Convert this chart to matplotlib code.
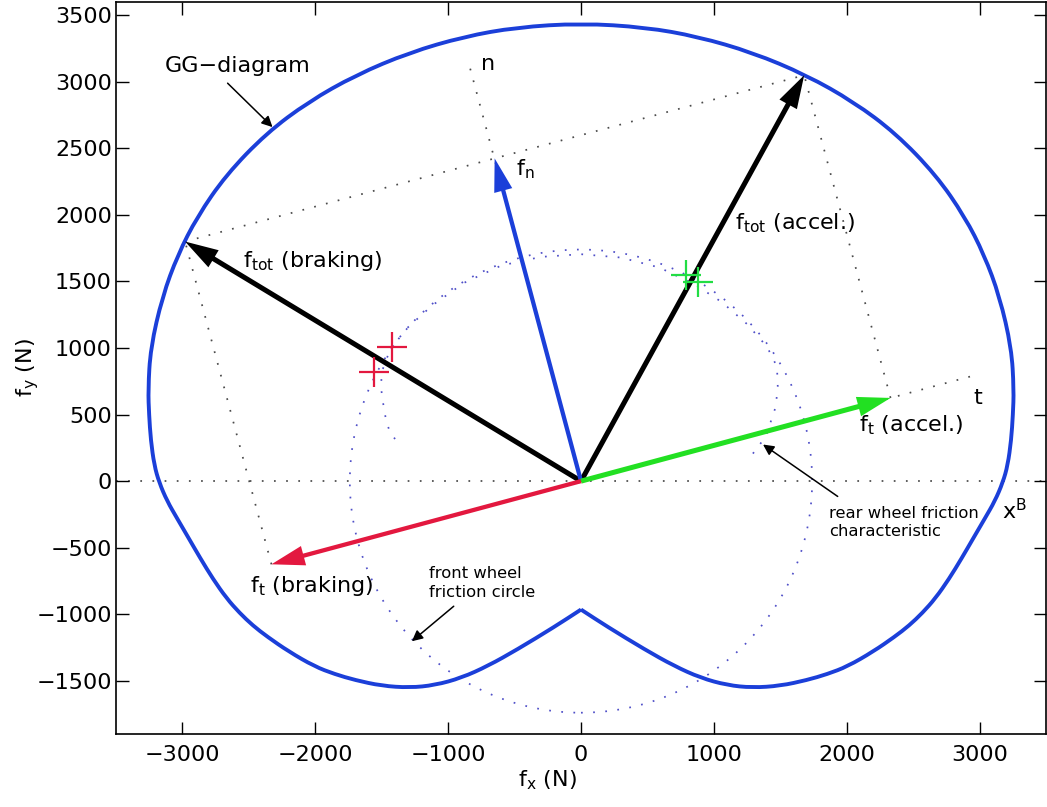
import matplotlib
matplotlib.use('Agg')
import matplotlib.pyplot as plt
from matplotlib.path import Path
from matplotlib.patches import PathPatch, Circle

plt.rcParams['font.family'] = ['DejaVu Sans']
plt.rcParams['mathtext.fontset'] = 'dejavusans'

# ---------------- data (N) ----------------
# GG-diagram envelope, starting at the bottom cusp, counter-clockwise
gg_x = [0, 200, 480, 700, 900, 1100, 1290, 1500, 1700, 1854, 2006, 2200, 2360, 2470, 2570,
        2668, 2770, 2865, 2958, 3040, 3115, 3175, 3212, 3238, 3251, 3258,
        3240, 3151, 3035, 2889, 2672, 2368, 2051, 1695, 1292, 879, 484, 0,
        -484, -879, -1292, -1695, -2051, -2368, -2672, -2889, -3035, -3151, -3240,
        -3258, -3251, -3238, -3212, -3175, -3115, -3040, -2958, -2865, -2770, -2668,
        -2570, -2470, -2360, -2200, -2006, -1854, -1700, -1500, -1290, -1100, -900,
        -700, -480, -200, 0]
gg_y = [-965, -1095, -1265, -1388, -1478, -1533, -1552, -1538, -1495, -1450, -1392, -1280, -1170, -1085, -990,
        -880, -735, -580, -420, -280, -150, -10, 120, 308, 498, 688,
        1000, 1386, 1700, 1986, 2300, 2614, 2850, 3051, 3220, 3340, 3410, 3440,
        3410, 3340, 3220, 3051, 2850, 2614, 2300, 1986, 1700, 1386, 1000,
        688, 498, 308, 120, -10, -150, -280, -420, -580, -735, -880,
        -990, -1085, -1170, -1280, -1392, -1450, -1495, -1538, -1552, -1533, -1478,
        -1388, -1265, -1095, -965]

# rear wheel friction characteristic (dotted)
rear_x = [1294, 1391, 1466, 1481, 1475, 1400, 1250, 1060, 860, 590, 300, 0,
          -300, -600, -880, -1120, -1320, -1440, -1500, -1505, -1490, -1468, -1445, -1408, -1355]
rear_y = [207, 335, 560, 710, 860, 1010, 1180, 1345, 1475, 1605, 1680, 1705,
          1685, 1620, 1490, 1320, 1140, 980, 820, 700, 590, 461, 388, 328, 253]

# front wheel friction circle radius
front_radius = 1740

# force vectors (tips, from origin)
f_n = (-650, 2425)
f_t_acc = (2330, 625)
f_t_brk = (-2330, -625)
f_tot_acc = (1680, 3050)
f_tot_brk = (-2980, 1800)

# axis lines (dotted)
t_axis_end = (2945, 790)
n_axis_end = (-845, 3140)

# markers
red_plus_x = [-1557, -1422]
red_plus_y = [822, 1010]
green_plus_x = [791, 880]
green_plus_y = [1550, 1498]

x_ticks = [-3000, -2000, -1000, 0, 1000, 2000, 3000]
y_ticks = [-1500, -1000, -500, 0, 500, 1000, 1500, 2000, 2500, 3000, 3500]

# ---------------- figure ----------------
W, H = 1047, 807
fig = plt.figure(figsize=(W / 100, H / 100), dpi=100)
ax = fig.add_axes([116 / W, 1 - 734 / H, 930 / W, 732 / H])
ax.set_xlim(-3500, 3500)
ax.set_ylim(-1900, 3600)

BLUE = '#1b3fd9'
DOT_BLUE = '#4f4fc8'
DOT_GRAY = '#4a4a4a'
dot = (0, (1, 6))
DLW = 1.25


def smooth_path(xs, ys):
    pts = list(zip(xs, ys))
    mids = [((pts[i][0] + pts[i + 1][0]) / 2, (pts[i][1] + pts[i + 1][1]) / 2)
            for i in range(len(pts) - 1)]
    verts = [pts[0], mids[0]]
    codes = [Path.MOVETO, Path.LINETO]
    for i in range(1, len(pts) - 1):
        verts += [pts[i], mids[i]]
        codes += [Path.CURVE3, Path.CURVE3]
    verts.append(pts[-1])
    codes.append(Path.LINETO)
    return Path(verts, codes)


# dotted construction lines
ax.plot([-3500, 3500], [0, 0], ls=dot, color=DOT_GRAY, lw=DLW, zorder=1)
ax.plot([0, t_axis_end[0]], [0, t_axis_end[1]], ls=dot, color=DOT_GRAY, lw=DLW, zorder=1)
ax.plot([0, n_axis_end[0]], [0, n_axis_end[1]], ls=dot, color=DOT_GRAY, lw=DLW, zorder=1)
ax.plot([f_tot_brk[0], f_tot_acc[0]], [f_tot_brk[1], f_tot_acc[1]],
        ls=dot, color=DOT_GRAY, lw=DLW, zorder=1)
ax.plot([f_t_brk[0], f_tot_brk[0]], [f_t_brk[1], f_tot_brk[1]],
        ls=dot, color=DOT_GRAY, lw=DLW, zorder=1)
ax.plot([f_t_acc[0], f_tot_acc[0]], [f_t_acc[1], f_tot_acc[1]],
        ls=dot, color=DOT_GRAY, lw=DLW, zorder=1)

# front wheel friction circle
ax.add_patch(Circle((0, 0), front_radius, fill=False, ls=dot, lw=DLW,
                    ec=DOT_BLUE, zorder=1))
# rear wheel friction characteristic
ax.plot(rear_x, rear_y, ls=dot, lw=DLW, color=DOT_BLUE, zorder=1)

# GG diagram
ax.add_patch(PathPatch(smooth_path(gg_x, gg_y), fill=False, ec=BLUE, lw=2.8,
                       joinstyle='miter', zorder=3))


# force arrows
def force_arrow(tip, color, w=38, hw=150, hl=250):
    ax.arrow(0, 0, tip[0], tip[1], width=w, head_width=hw, head_length=hl,
             length_includes_head=True, fc=color, ec=color, lw=0, zorder=4)


force_arrow(f_tot_brk, 'black')
force_arrow(f_tot_acc, 'black')
force_arrow(f_n, BLUE, w=32, hw=140)
force_arrow(f_t_acc, '#22e022')
force_arrow(f_t_brk, '#e3183f', w=32)

# plus markers
ax.plot(red_plus_x, red_plus_y, '+', color='#e3183f', ms=21, mew=1.6, zorder=5)
ax.plot(green_plus_x, green_plus_y, '+', color='#22dd44', ms=21, mew=1.6, zorder=5)

# labels
FS = 16
FS2 = 11.8
ax.text(-2585, 3117, 'GG\u2212diagram', fontsize=FS, ha='center', va='center')
ax.annotate('', xy=(-2322, 2660), xytext=(-2660, 2990),
            arrowprops=dict(arrowstyle='-|>', color='black', lw=1.1, mutation_scale=16,
                            shrinkA=0, shrinkB=0))
ax.text(-2547, 1610, r'$\mathregular{f_{tot}}$ (braking)', fontsize=FS, ha='left', va='baseline')
ax.text(1158, 1888, r'$\mathregular{f_{tot}}$ (accel.)', fontsize=FS, ha='left', va='baseline')
ax.text(-486, 2300, r'$\mathregular{f_{n}}$', fontsize=FS, ha='left', va='baseline')
ax.text(2096, 374, r'$\mathregular{f_{t}}$ (accel.)', fontsize=FS, ha='left', va='baseline')
ax.text(-2495, -835, r'$\mathregular{f_{t}}$ (braking)', fontsize=FS, ha='left', va='baseline')
ax.text(2950, 580, 't', fontsize=FS, ha='left', va='baseline')
ax.text(-755, 3088, 'n', fontsize=FS, ha='left', va='baseline')
ax.text(3170, -288, r'$\mathregular{x^{B}}$', fontsize=FS, ha='left', va='baseline')

ax.text(-1145, -765, 'front wheel\nfriction circle', fontsize=FS2, ha='left', va='center',
        linespacing=1.3)
ax.annotate('', xy=(-1273, -1203), xytext=(-958, -940),
            arrowprops=dict(arrowstyle='-|>', color='black', lw=1.1, mutation_scale=16,
                            shrinkA=0, shrinkB=0))
ax.text(1870, -310, 'rear wheel friction\ncharacteristic', fontsize=FS2, ha='left', va='center',
        linespacing=1.3)
ax.annotate('', xy=(1370, 275), xytext=(1932, -115),
            arrowprops=dict(arrowstyle='-|>', color='black', lw=1.1, mutation_scale=16,
                            shrinkA=0, shrinkB=0))

# axes styling
ax.set_xticks(x_ticks)
ax.set_yticks(y_ticks)
ax.tick_params(direction='in', top=True, right=True, length=9, width=1.0,
               labelsize=FS)
ax.tick_params(axis='x', pad=8)
ax.tick_params(axis='y', pad=3)
for s in ax.spines.values():
    s.set_linewidth(1.2)

ax.set_xlabel(r'$\mathregular{f_{x}}$ (N)', fontsize=FS)
ax.set_ylabel(r'$\mathregular{f_{y}}$ (N)', fontsize=FS)
ax.xaxis.set_label_coords((547 - 116) / 930, -(768 - 734) / 732)
ax.yaxis.set_label_coords(-(116 - 41) / 930, 0.5)

fig.savefig('out.png', dpi=100)
